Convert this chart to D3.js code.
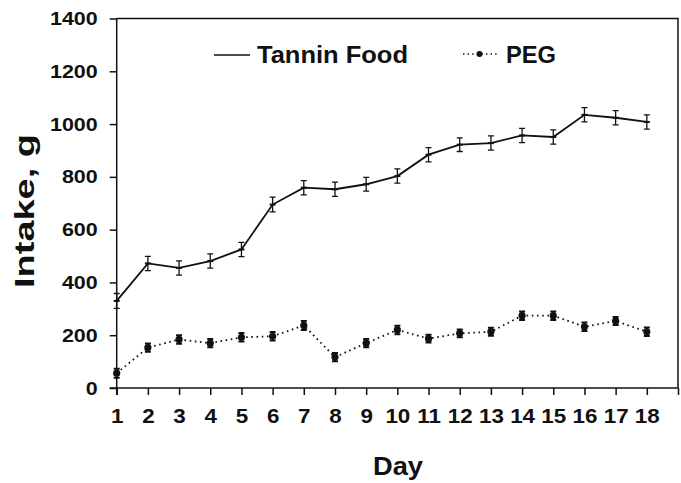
<!DOCTYPE html>
<html>
<head>
<meta charset="utf-8">
<script src="https://cdn.jsdelivr.net/npm/d3@7"></script>
<style>
  html, body { margin: 0; padding: 0; background: #fff; }
  text { font-family: "Liberation Sans", Arial, sans-serif; font-weight: bold; fill: #111; }
</style>
</head>
<body>
<svg id="chart" width="681" height="483"></svg>
<script>
const days = [1,2,3,4,5,6,7,8,9,10,11,12,13,14,15,16,17,18];
const tanninFood = [330, 472, 455, 481, 525, 695, 759, 753, 772, 803, 884, 922, 928, 957, 951, 1035, 1024, 1008];
const tanninErr  = [28, 27, 27, 27, 27, 28, 27, 27, 26, 27, 27, 26, 27, 27, 27, 27, 27, 27];
const peg        = [56, 153, 184, 170, 192, 196, 237, 117, 170, 220, 187, 207, 213, 274, 274, 232, 254, 213];
const pegErr     = [17, 16, 16, 16, 16, 16, 17, 16, 16, 16, 15, 15, 15, 16, 16, 16, 15, 16];
const yTicks = [0, 200, 400, 600, 800, 1000, 1200, 1400];
const seriesNames = ["Tannin Food", "PEG"];
const xTitle = "Day";
const yTitle = "Intake, g";

(function () {
const svg = d3.select("#chart");
const mL = 116.7, mR = 678, mT = 18.5, mB = 388;
const x = d3.scaleLinear().domain([1, 19]).range([mL, mR]);
const y = d3.scaleLinear().domain([0, 1400]).range([mB, mT]);
const ink = "#111";

// frame (top and right borders)
svg.append("path")
  .attr("d", `M${mL},${mT}H${mR}V${mB}`)
  .attr("fill", "none").attr("stroke", ink).attr("stroke-width", 1.5);

// y axis
const yScaleX = 1.13;
const yAxis = svg.append("g").attr("transform", `translate(${mL},0)`)
  .call(d3.axisLeft(y).tickValues(yTicks).tickSize(7).tickPadding(12).tickFormat(d3.format("d")));
yAxis.select(".domain").attr("stroke", ink).attr("stroke-width", 1.5).attr("d", `M0,${mT}V${mB + 7}`);
yAxis.selectAll(".tick line").attr("stroke", ink).attr("stroke-width", 1.5);
yAxis.selectAll(".tick text").attr("font-size", 19).attr("fill", ink)
  .attr("font-family", "Liberation Sans, Arial, sans-serif").attr("font-weight", "bold")
  .attr("x", -19 / yScaleX).attr("transform", `scale(${yScaleX},1)`);

// x axis
const xAxis = svg.append("g").attr("transform", `translate(0,${mB})`)
  .call(d3.axisBottom(x).tickValues(d3.range(1, 20)).tickSize(7).tickPadding(14)
    .tickFormat(d => d <= 18 ? String(d) : ""));
xAxis.select(".domain").attr("stroke", ink).attr("stroke-width", 1.5).attr("d", `M${mL - 7},0H${mR}`);
xAxis.selectAll(".tick line").attr("stroke", ink).attr("stroke-width", 1.5);
xAxis.selectAll(".tick text").attr("font-size", 20).attr("fill", ink)
  .attr("font-family", "Liberation Sans, Arial, sans-serif").attr("font-weight", "bold")
  .attr("transform", "scale(1.12,1)");

// axis titles
svg.append("text").attr("x", 398).attr("y", 475)
  .attr("text-anchor", "middle").attr("font-size", 25)
  .attr("textLength", 50).attr("lengthAdjust", "spacingAndGlyphs").text(xTitle);
svg.append("text").attr("transform", "translate(34,211) rotate(-90)")
  .attr("text-anchor", "middle").attr("font-size", 27)
  .attr("textLength", 154).attr("lengthAdjust", "spacingAndGlyphs").text(yTitle);

// data tables
const tData = days.map((d, i) => ({ d, v: tanninFood[i], e: tanninErr[i] }));
const pData = days.map((d, i) => ({ d, v: peg[i], e: pegErr[i] }));
const line = d3.line().x(p => x(p.d)).y(p => y(p.v));

// error bars
function errBars(data, capW, sw) {
  const g = svg.append("g").attr("stroke", ink).attr("stroke-width", sw).attr("fill", "none");
  g.selectAll("path").data(data).join("path")
    .attr("d", p => {
      const cx = x(p.d), y0 = y(p.v - p.e), y1 = y(p.v + p.e);
      return `M${cx},${y0}V${y1}M${cx - capW},${y0}H${cx + capW}M${cx - capW},${y1}H${cx + capW}`;
    });
}

// Tannin series
svg.append("path").datum(tData).attr("d", line)
  .attr("fill", "none").attr("stroke", ink).attr("stroke-width", 1.8);
errBars(tData, 3, 1.3);
svg.append("g").selectAll("path").data(tData).join("path")
  .attr("d", p => `M${x(p.d) - 3},${y(p.v)}H${x(p.d) + 3}`)
  .attr("stroke", ink).attr("stroke-width", 2);

// PEG series
svg.append("path").datum(pData).attr("d", line)
  .attr("fill", "none").attr("stroke", ink).attr("stroke-width", 1.8)
  .attr("stroke-dasharray", "1.6,3.6");
errBars(pData, 3, 2);
svg.append("g").selectAll("circle").data(pData).join("circle")
  .attr("cx", p => x(p.d)).attr("cy", p => y(p.v)).attr("r", 3.6).attr("fill", ink);

// legend
const lg = svg.append("g");
lg.append("line").attr("x1", 214).attr("x2", 250).attr("y1", 55).attr("y2", 55)
  .attr("stroke", ink).attr("stroke-width", 1.6);
lg.append("text").attr("x", 257).attr("y", 63).attr("font-size", 23)
  .attr("textLength", 151).attr("lengthAdjust", "spacingAndGlyphs").text(seriesNames[0]);
lg.append("line").attr("x1", 463).attr("x2", 497).attr("y1", 54).attr("y2", 54)
  .attr("stroke", ink).attr("stroke-width", 1.6).attr("stroke-dasharray", "1.4,3.2");
lg.append("circle").attr("cx", 479.5).attr("cy", 54).attr("r", 3).attr("fill", ink);
lg.append("text").attr("x", 506).attr("y", 63).attr("font-size", 23)
  .attr("textLength", 50).attr("lengthAdjust", "spacingAndGlyphs").text(seriesNames[1]);
})();
</script>
</body>
</html>
